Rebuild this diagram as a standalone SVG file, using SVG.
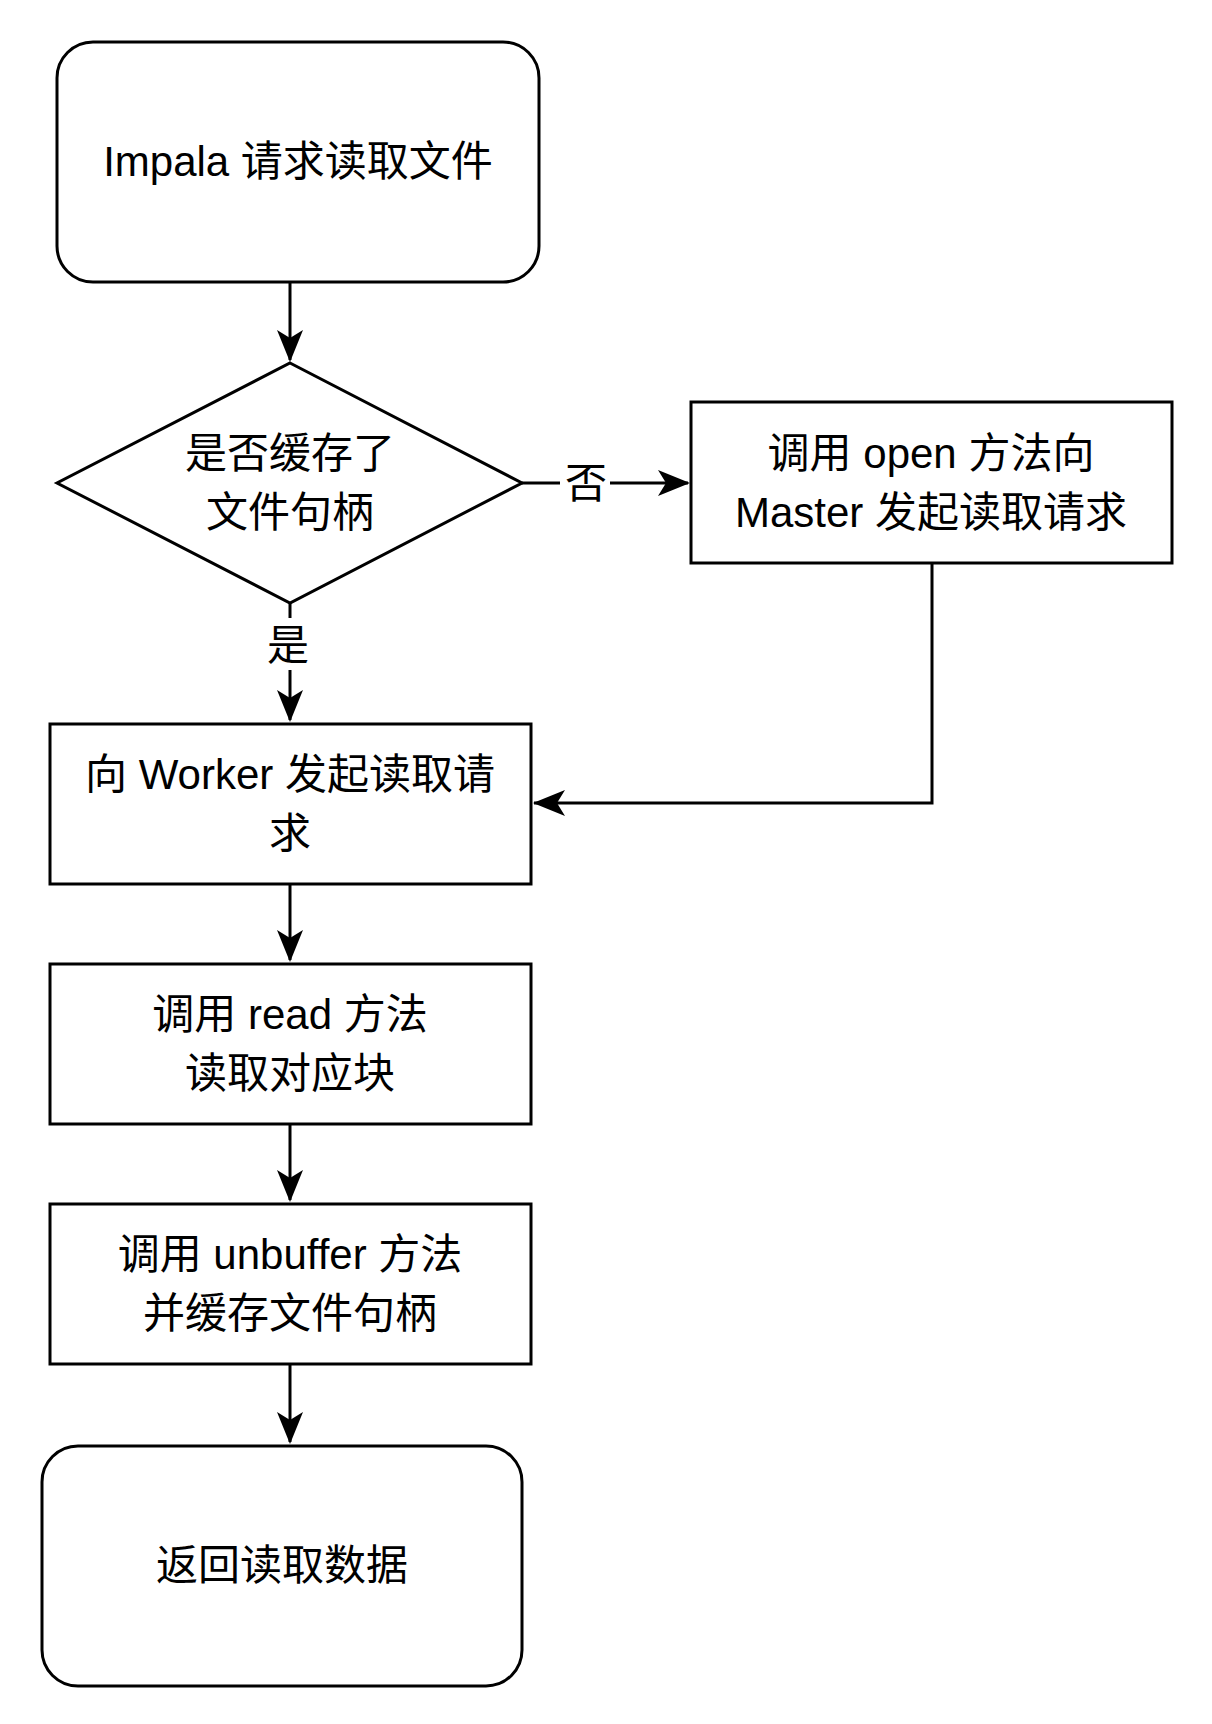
<svg xmlns="http://www.w3.org/2000/svg" width="1212" height="1724" viewBox="0 0 1212 1724">
<defs>
<style>
.n{fill:#fff;stroke:#000;stroke-width:3}
.t{font-family:"Liberation Sans","Noto Sans CJK SC",sans-serif;font-size:42px;text-anchor:middle;fill:#000}
.c{fill:none;stroke:#000;stroke-width:3}
</style>
<marker id="a" markerWidth="10" markerHeight="10" refX="9" refY="5" orient="auto" markerUnits="userSpaceOnUse" viewBox="0 0 10 10"><path d="M0,0 L10,5 L0,10 L3,5 Z"/></marker>
</defs>
<rect width="1212" height="1724" fill="#fff"/>
<g id="connectors">
<path class="c" d="M290,282 V360" marker-end="url(#a)" style="marker-end:none"/>
<path d="M290,362 L277,330 L290,338 L303,330 Z"/>
<path class="c" d="M290,603 V720"/>
<path d="M290,722 L277,690 L290,698 L303,690 Z"/>
<rect x="262" y="618" width="56" height="52" fill="#fff"/>
<text class="t" x="288" y="660" font-size="40">是</text>
<path class="c" d="M522,483 H688"/>
<path d="M690,483 L658,470 L666,483 L658,496 Z"/>
<rect x="560" y="458" width="50" height="52" fill="#fff"/>
<text class="t" x="586" y="498">否</text>
<path class="c" d="M932,563 V803 H534"/>
<path d="M533,803 L565,790 L557,803 L565,816 Z"/>
<path class="c" d="M290,884 V960"/>
<path d="M290,962 L277,930 L290,938 L303,930 Z"/>
<path class="c" d="M290,1124 V1200"/>
<path d="M290,1202 L277,1170 L290,1178 L303,1170 Z"/>
<path class="c" d="M290,1364 V1442"/>
<path d="M290,1444 L277,1412 L290,1420 L303,1412 Z"/>
</g>
<g id="start"><rect class="n" x="57" y="42" width="482" height="240" rx="36"/><text class="t" x="298" y="176">Impala 请求读取文件</text></g>
<g id="decision"><path class="n" d="M290,363 L522,483 L290,603 L57,483 Z"/><text class="t" x="290" y="468">是否缓存了</text><text class="t" x="290" y="527">文件句柄</text></g>
<g id="open"><rect class="n" x="691" y="402" width="481" height="161"/><text class="t" x="931" y="468">调用 open 方法向</text><text class="t" x="931" y="527">Master 发起读取请求</text></g>
<g id="worker"><rect class="n" x="50" y="724" width="481" height="160"/><text class="t" x="290" y="789">向 Worker 发起读取请</text><text class="t" x="290" y="848">求</text></g>
<g id="read"><rect class="n" x="50" y="964" width="481" height="160"/><text class="t" x="290" y="1029">调用 read 方法</text><text class="t" x="290" y="1088">读取对应块</text></g>
<g id="unbuffer"><rect class="n" x="50" y="1204" width="481" height="160"/><text class="t" x="290" y="1269">调用 unbuffer 方法</text><text class="t" x="290" y="1328">并缓存文件句柄</text></g>
<g id="end"><rect class="n" x="42" y="1446" width="480" height="240" rx="36"/><text class="t" x="282" y="1580">返回读取数据</text></g>
</svg>
